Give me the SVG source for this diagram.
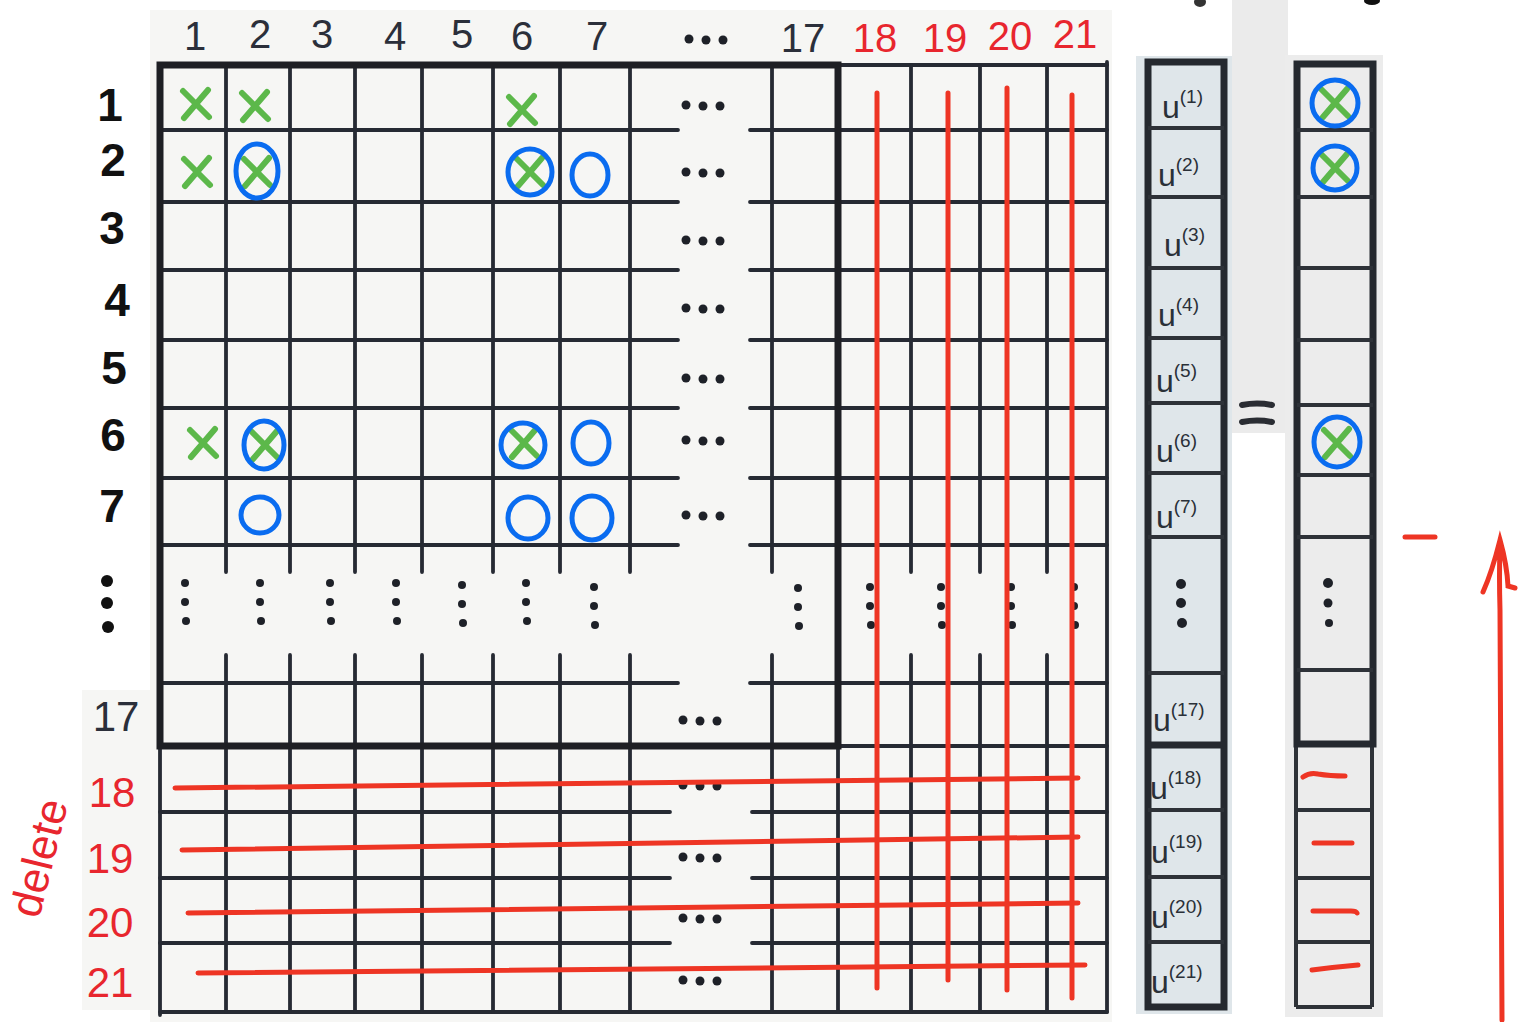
<svg xmlns="http://www.w3.org/2000/svg" width="1532" height="1022" viewBox="0 0 1532 1022">
<style>
.g{stroke:#262a33;stroke-width:3.8;fill:none;stroke-linecap:round}
.gt{stroke:#1e1f24;stroke-width:7;fill:none;stroke-linecap:square}
.hd{font-family:"Liberation Sans",Arial,sans-serif;font-size:40px;fill:#2b2f3a;text-anchor:middle}
.rl{font-family:"Liberation Sans",Arial,sans-serif;font-size:46px;font-weight:bold;fill:#111;text-anchor:middle}
.red{fill:#e8262e}
.x{stroke:#5cb84a;stroke-width:6;fill:none;stroke-linecap:round}
.o{stroke:#0a6cf0;stroke-width:5;fill:none}
.rd{stroke:#ee3524;stroke-width:5;fill:none;stroke-linecap:round}
.dt{fill:#1e2128}
.u{font-family:"Liberation Sans",Arial,sans-serif;font-size:32px;fill:#2a3038}
.sup{font-size:19px}
.vt{stroke:#25292f;stroke-width:7;fill:none}
.vn{stroke:#2e3238;stroke-width:4;fill:none}
</style>
<defs>
<g id="xm"><path class="x" d="M-13,-13 L13,13 M12,-14 L-12,14"/></g>
<g id="hdots"><circle r="4.5" cx="-17" cy="0"/><circle r="4.5" cx="0" cy="1"/><circle r="4.5" cx="17" cy="1"/></g>
<g id="vdots"><circle r="4" cx="0" cy="-19"/><circle r="4" cx="0" cy="0"/><circle r="4" cx="1" cy="19"/></g>
</defs>
<rect width="1532" height="1022" fill="#ffffff"/>
<g id="paper">
<rect x="150" y="10" width="962" height="1012" fill="#f6f6f4"/>
<rect x="82" y="690" width="68" height="320" fill="#f6f6f4"/>
<rect x="1232" y="0" width="56" height="433" fill="#ebebeb"/>
<rect x="1136" y="56" width="96" height="958" fill="#dfe6ea"/>
<rect x="1285" y="55" width="98" height="962" fill="#ececec"/>
</g>
<g id="grid">
<path class="g" d="M160,130H678M750,130H1107 M160,202H678M750,202H1107 M160,270H678M750,270H1107 M160,340H678M750,340H1107 M160,408H678M750,408H1107 M160,478H678M750,478H1107 M160,545H678M750,545H1107 M160,683H678M750,683H1107 M838,746H1107 M160,812H670M752,812H1107 M160,878H670M752,878H1107 M160,943H670M752,943H1107 M160,1012H1107 M838,65H1107"/>
<path class="g" d="M226,65V572M226,655V1012 M290,65V572M290,655V1012 M355,65V572M355,655V1012 M422,65V572M422,655V1012 M493,65V572M493,655V1012 M560,65V572M560,655V1012 M630,65V572M630,655V1012 M772,65V572M772,655V1012 M911,65V572M911,655V1012 M980,65V572M980,655V1012 M1047,65V572M1047,655V1012 M1107,62V1012 M838,746V1012 M160,746V1015"/>
<rect class="gt" x="160" y="65" width="678" height="681"/>
</g>
<g id="column-labels">
<text class="hd" x="195" y="50">1</text>
<text class="hd" x="260" y="48">2</text>
<text class="hd" x="322" y="48">3</text>
<text class="hd" x="395" y="50">4</text>
<text class="hd" x="462" y="48">5</text>
<text class="hd" x="522" y="50">6</text>
<text class="hd" x="597" y="50">7</text>
<g class="dt" transform="translate(706,39)"><use href="#hdots"/></g>
<text class="hd" x="803" y="52">17</text>
<text class="hd red" x="875" y="52">18</text>
<text class="hd red" x="945" y="52">19</text>
<text class="hd red" x="1010" y="50">20</text>
<text class="hd red" x="1075" y="48">21</text>
</g>
<g id="row-labels">
<text class="rl" x="110" y="121">1</text>
<text class="rl" x="113" y="176">2</text>
<text class="rl" x="112" y="244">3</text>
<text class="rl" x="117" y="316">4</text>
<text class="rl" x="114" y="384">5</text>
<text class="rl" x="113" y="451">6</text>
<text class="rl" x="112" y="522">7</text>
<g fill="#111" transform="translate(107,603)"><circle r="6" cx="0" cy="-22"/><circle r="6" cx="0" cy="0"/><circle r="6" cx="1" cy="24"/></g>
<text class="hd" x="116" y="731" style="font-size:42px">17</text>
<text class="hd red" x="112" y="807" style="font-size:42px">18</text>
<text class="hd red" x="110" y="873" style="font-size:42px">19</text>
<text class="hd red" x="110" y="937" style="font-size:42px">20</text>
<text class="hd red" x="110" y="997" style="font-size:42px">21</text>
<text class="hd red" x="40" y="872" transform="rotate(-76 40 858)" style="font-size:44px">delete</text>
</g>
<g id="dots" class="dt">
<use href="#hdots" x="703" y="105"/>
<use href="#hdots" x="703" y="172"/>
<use href="#hdots" x="703" y="240"/>
<use href="#hdots" x="703" y="308"/>
<use href="#hdots" x="703" y="378"/>
<use href="#hdots" x="703" y="440"/>
<use href="#hdots" x="703" y="515"/>
<use href="#hdots" x="700" y="720"/>
<use href="#hdots" x="700" y="785"/>
<use href="#hdots" x="700" y="857"/>
<use href="#hdots" x="700" y="918"/>
<use href="#hdots" x="700" y="980"/>
<use href="#vdots" x="185" y="602"/>
<use href="#vdots" x="260" y="602"/>
<use href="#vdots" x="330" y="602"/>
<use href="#vdots" x="396" y="602"/>
<use href="#vdots" x="462" y="604"/>
<use href="#vdots" x="526" y="602"/>
<use href="#vdots" x="594" y="606"/>
<use href="#vdots" x="798" y="607"/>
<use href="#vdots" x="870" y="606"/>
<use href="#vdots" x="941" y="606"/>
<use href="#vdots" x="1011" y="606"/>
<use href="#vdots" x="1074" y="606"/>
</g>
<g id="marks">
<use href="#xm" x="196" y="104"/>
<use href="#xm" x="255" y="106"/>
<use href="#xm" x="522" y="110"/>
<use href="#xm" x="197" y="172"/>
<use href="#xm" x="257" y="172"/>
<use href="#xm" x="530" y="172"/>
<use href="#xm" x="203" y="443"/>
<use href="#xm" x="265" y="445"/>
<use href="#xm" x="524" y="443"/>
<ellipse class="o" cx="257" cy="171" rx="21" ry="27"/>
<ellipse class="o" cx="530" cy="172" rx="22" ry="23"/>
<ellipse class="o" cx="590" cy="175" rx="18" ry="21"/>
<ellipse class="o" cx="264" cy="445" rx="20" ry="24"/>
<ellipse class="o" cx="523" cy="445" rx="22" ry="22"/>
<ellipse class="o" cx="591" cy="443" rx="18" ry="21"/>
<ellipse class="o" cx="260" cy="515" rx="19" ry="18"/>
<ellipse class="o" cx="528" cy="518" rx="20" ry="21"/>
<ellipse class="o" cx="592" cy="518" rx="20" ry="22"/>
</g>
<g id="strike-lines">
<path class="rd" d="M877,93V988 M948,93V980 M1007,88V990 M1072,95V998"/>
<path class="rd" d="M175,788L1078,778 M182,850L1078,837 M188,913L1078,903 M198,973L1085,965"/>
</g>
<g id="vector-u">
<rect class="vt" x="1148" y="62" width="76" height="945"/>
<path class="vt" d="M1148,745H1224"/>
<path class="vn" d="M1148,128H1224M1148,197H1224M1148,268H1224M1148,338H1224M1148,403H1224M1148,473H1224M1148,537H1224M1148,673H1224M1148,810H1224M1148,877H1224M1148,942H1224"/>
<text class="u" x="1162" y="118">u<tspan class="sup" dy="-15">(1)</tspan></text>
<text class="u" x="1158" y="186">u<tspan class="sup" dy="-15">(2)</tspan></text>
<text class="u" x="1164" y="256">u<tspan class="sup" dy="-15">(3)</tspan></text>
<text class="u" x="1158" y="326">u<tspan class="sup" dy="-15">(4)</tspan></text>
<text class="u" x="1156" y="392">u<tspan class="sup" dy="-15">(5)</tspan></text>
<text class="u" x="1156" y="462">u<tspan class="sup" dy="-15">(6)</tspan></text>
<text class="u" x="1156" y="528">u<tspan class="sup" dy="-15">(7)</tspan></text>
<g class="dt" transform="translate(1181,603)"><circle r="5" cx="0" cy="-19"/><circle r="5" cx="0" cy="0"/><circle r="5" cx="1" cy="20"/></g>
<text class="u" x="1153" y="731">u<tspan class="sup" dy="-15">(17)</tspan></text>
<text class="u red" x="1150" y="799">u<tspan class="sup" dy="-15">(18)</tspan></text>
<text class="u red" x="1151" y="863">u<tspan class="sup" dy="-15">(19)</tspan></text>
<text class="u red" x="1151" y="928">u<tspan class="sup" dy="-15">(20)</tspan></text>
<text class="u red" x="1151" y="993">u<tspan class="sup" dy="-15">(21)</tspan></text>
</g>
<g id="equals">
<path d="M1242,405Q1257,402 1272,405M1242,422Q1257,419 1272,422" stroke="#2a2d33" stroke-width="6" fill="none" stroke-linecap="round"/>
</g>
<g id="vector-result">
<path class="vn" d="M1296,745V1007M1372,745V1007M1296,810H1372M1296,878H1372M1296,942H1372M1296,1007H1372"/>
<rect class="vt" x="1297" y="64" width="76" height="680" stroke-width="8"/>
<path class="vn" d="M1297,130H1373M1297,197H1373M1297,268H1373M1297,340H1373M1297,405H1373M1297,475H1373M1297,537H1373M1297,670H1373"/>
<use href="#xm" x="1335" y="103"/>
<use href="#xm" x="1335" y="168"/>
<use href="#xm" x="1337" y="443"/>
<circle class="o" cx="1335" cy="103" r="23"/>
<circle class="o" cx="1335" cy="168" r="22"/>
<ellipse class="o" cx="1337" cy="442" rx="23" ry="25"/>
<g class="dt" transform="translate(1328,603)"><circle r="5" cx="0" cy="-20"/><circle r="4.5" cx="0" cy="0"/><circle r="4" cx="1" cy="20"/></g>
<path class="rd" stroke-width="6" d="M1303,777Q1310,772 1318,774Q1330,776 1345,776 M1314,843H1352 M1313,911H1351Q1356,911 1357,913 M1312,970Q1335,967 1358,965"/>
</g>
<g id="decorations">
<ellipse cx="1200" cy="2" rx="6" ry="5" fill="#333"/>
<ellipse cx="1372" cy="1" rx="8" ry="4" fill="#111"/>
<path class="rd" stroke-width="10" d="M1405,537H1435"/>
<path class="rd" d="M1502,1020L1500,610Q1499,575 1500,548 M1483,592Q1492,572 1500,540Q1507,565 1508,586L1515,588"/>
</g>
</svg>
